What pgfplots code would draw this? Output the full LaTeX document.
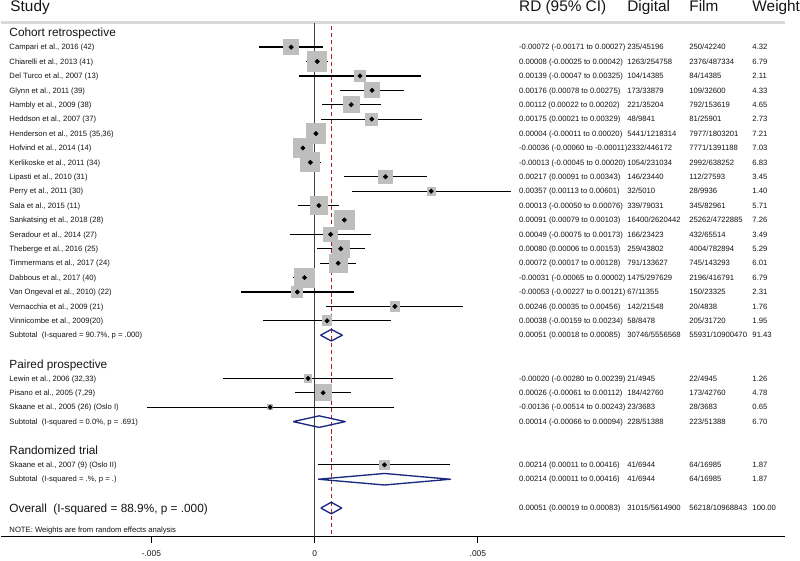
\documentclass[border=0pt]{standalone}
\usepackage{fontspec}
\setmainfont{Liberation Sans}
\usepackage{pgfplots}
\usepackage{pgfplotstable}
\pgfplotsset{compat=1.18}

\definecolor{boxgray}{RGB}{190,190,190}
\definecolor{hdrline}{RGB}{217,217,217}
\definecolor{navyd}{RGB}{26,40,128}
\definecolor{refred}{RGB}{165,35,35}
\definecolor{txt}{RGB}{20,20,20}

% y = -row, row 0 = first study
\pgfplotstableread{
y rd lo hi w
0 -0.00072 -0.00171 0.00027 4.32
-1 0.00008 -0.00025 0.00042 6.79
-2 0.00139 -0.00047 0.00325 2.11
-3 0.00176 0.00078 0.00275 4.33
-4 0.00112 0.00022 0.00202 4.65
-5 0.00175 0.00021 0.00329 2.73
-6 0.00004 -0.00011 0.00020 7.21
-7 -0.00036 -0.00060 -0.00011 7.03
-8 -0.00013 -0.00045 0.00020 6.83
-9 0.00217 0.00091 0.00343 3.45
-10 0.00357 0.00113 0.00601 1.40
-11 0.00013 -0.00050 0.00076 5.71
-12 0.00091 0.00079 0.00103 7.26
-13 0.00049 -0.00075 0.00173 3.49
-14 0.00080 0.00006 0.00153 5.29
-15 0.00072 0.00017 0.00128 6.01
-16 -0.00031 -0.00065 0.00002 6.79
-17 -0.00053 -0.00227 0.00121 2.31
-18 0.00246 0.00035 0.00456 1.76
-19 0.00038 -0.00159 0.00234 1.95
-23 -0.00020 -0.00280 0.00239 1.26
-24 0.00026 -0.00061 0.00112 4.78
-25 -0.00136 -0.00514 0.00243 0.65
-29 0.00214 0.00011 0.00416 1.87
}\studies

% column positions (data units)
\def\xS{-0.009356}
\def\xR{0.006258}
\def\xD{0.009571}
\def\xF{0.011472}
\def\xW{0.013405}

\newcommand\srow[6]{%
  \node[sm] at (axis cs:\xS,#1) {#2};
  \node[sm] at (axis cs:\xR,#1) {#3};
  \node[sm] at (axis cs:\xD,#1) {#4};
  \node[sm] at (axis cs:\xF,#1) {#5};
  \node[sm] at (axis cs:\xW,#1) {#6};
}

\begin{document}
\begin{tikzpicture}[
  sm/.style={font=\fontsize{5.75}{7}\selectfont, anchor=base west, inner sep=0pt, yshift=-2.05pt, text=txt},
  grp/.style={font=\fontsize{8.85}{10}\selectfont, anchor=base west, inner sep=0pt, yshift=-3.2pt, text=txt},
  hdr/.style={font=\fontsize{11.5}{13}\selectfont, anchor=base west, inner sep=0pt, text=txt},
]
\begin{axis}[
  scale only axis,
  width=587.25pt, height=402.75pt,
  xmin=-0.00960123, xmax=0.01441718,
  ymin=-34, ymax=3.3333,
  axis x line=bottom, axis y line=none,
  x axis line style={-, black, line width=0.6pt},
  xtick={-0.005,0,0.005},
  xticklabels={-.005,0,.005},
  scaled x ticks=false,
  ytick=\empty,
  tick align=outside,
  major tick length=4.5pt,
  tick style={black, line width=0.6pt},
  x tick label style={font=\fontsize{6.3}{7}\selectfont, text=txt, yshift=-2pt},
  clip=false,
]
% header rule and reference lines
\addplot[hdrline, line width=1.8pt] coordinates {(-0.00960123,1.7) (0.01441718,1.7)};
\addplot[black!75, line width=0.8pt] coordinates {(0,1.7) (0,-34)};
\addplot[refred, line width=0.8pt, dash pattern=on 3.2pt off 2.2pt] coordinates {(0.00051,1.5) (0.00051,-34)};

% weight boxes (side proportional to sqrt of weight)
\addplot[only marks, mark=none,
  visualization depends on={5.78*sqrt(\thisrow{w}) \as \bsz},
  nodes near coords={},
  every node near coord/.append style={anchor=center, fill=boxgray, draw=none,
    inner sep=0pt, outer sep=0pt, minimum size=\bsz pt}]
  table[x=rd, y=y, meta=w] {\studies};

% confidence intervals and point estimates
\addplot[only marks, mark=square*, mark size=1.15pt,
  mark options={fill=black, draw=none, rotate=45},
  error bars/.cd, x dir=both, x explicit, error mark=none,
  error bar style={black, line width=0.95pt}]
  table[x=rd, y=y,
    x error minus expr=\thisrow{rd}-\thisrow{lo},
    x error plus expr=\thisrow{hi}-\thisrow{rd}] {\studies};

% pooled diamonds
\addplot[navyd, line width=1pt, line join=round] coordinates {(0.00018,-20) (0.00051,-19.6) (0.00085,-20) (0.00051,-20.4) (0.00018,-20)};
\addplot[navyd, line width=1pt, line join=round] coordinates {(-0.00066,-26) (0.00014,-25.6) (0.00094,-26) (0.00014,-26.4) (-0.00066,-26)};
\addplot[navyd, line width=1pt, line join=round] coordinates {(0.00011,-30) (0.00214,-29.6) (0.00416,-30) (0.00214,-30.4) (0.00011,-30)};
\addplot[navyd, line width=1pt, line join=round] coordinates {(0.00019,-32) (0.00051,-31.6) (0.00083,-32) (0.00051,-32.4) (0.00019,-32)};

% headers
\node[hdr] at (axis cs:-0.009325,2.5) {Study};
\node[hdr] at (axis cs:0.006258,2.5) {RD (95\% CI)};
\node[hdr] at (axis cs:0.009571,2.5) {Digital};
\node[hdr] at (axis cs:0.011472,2.5) {Film};
\node[hdr] at (axis cs:0.013405,2.5) {Weight};

\node[grp] at (axis cs:\xS,1) {Cohort retrospective};
\srow{0}{Campari et al., 2016 (42)}{-0.00072 (-0.00171 to 0.00027)}{235/45196}{250/42240}{4.32}
\srow{-1}{Chiarelli et al., 2013 (41)}{0.00008 (-0.00025 to 0.00042)}{1263/254758}{2376/487334}{6.79}
\srow{-2}{Del Turco et al., 2007 (13)}{0.00139 (-0.00047 to 0.00325)}{104/14385}{84/14385}{2.11}
\srow{-3}{Glynn et al., 2011 (39)}{0.00176 (0.00078 to 0.00275)}{173/33879}{109/32600}{4.33}
\srow{-4}{Hambly et al., 2009 (38)}{0.00112 (0.00022 to 0.00202)}{221/35204}{792/153619}{4.65}
\srow{-5}{Heddson et al., 2007 (37)}{0.00175 (0.00021 to 0.00329)}{48/9841}{81/25901}{2.73}
\srow{-6}{Henderson et al., 2015 (35,36)}{0.00004 (-0.00011 to 0.00020)}{5441/1218314}{7977/1803201}{7.21}
\srow{-7}{Hofvind et al., 2014 (14)}{-0.00036 (-0.00060 to -0.00011)}{2332/446172}{7771/1391188}{7.03}
\srow{-8}{Kerlikoske et al., 2011 (34)}{-0.00013 (-0.00045 to 0.00020)}{1054/231034}{2992/638252}{6.83}
\srow{-9}{Lipasti et al., 2010 (31)}{0.00217 (0.00091 to 0.00343)}{146/23440}{112/27593}{3.45}
\srow{-10}{Perry et al., 2011 (30)}{0.00357 (0.00113 to 0.00601)}{32/5010}{28/9936}{1.40}
\srow{-11}{Sala et al., 2015 (11)}{0.00013 (-0.00050 to 0.00076)}{339/79031}{345/82961}{5.71}
\srow{-12}{Sankatsing et al., 2018 (28)}{0.00091 (0.00079 to 0.00103)}{16400/2620442}{25262/4722885}{7.26}
\srow{-13}{Seradour et al., 2014 (27)}{0.00049 (-0.00075 to 0.00173)}{166/23423}{432/65514}{3.49}
\srow{-14}{Theberge et al., 2016 (25)}{0.00080 (0.00006 to 0.00153)}{259/43802}{4004/782894}{5.29}
\srow{-15}{Timmermans et al., 2017 (24)}{0.00072 (0.00017 to 0.00128)}{791/133627}{745/143293}{6.01}
\srow{-16}{Dabbous et al., 2017 (40)}{-0.00031 (-0.00065 to 0.00002)}{1475/297629}{2196/416791}{6.79}
\srow{-17}{Van Ongeval et al., 2010) (22)}{-0.00053 (-0.00227 to 0.00121)}{67/11355}{150/23325}{2.31}
\srow{-18}{Vernacchia et al., 2009 (21)}{0.00246 (0.00035 to 0.00456)}{142/21548}{20/4838}{1.76}
\srow{-19}{Vinnicombe et al., 2009(20)}{0.00038 (-0.00159 to 0.00234)}{58/8478}{205/31720}{1.95}
\srow{-20}{Subtotal\ \ (I-squared = 90.7\%, p = .000)}{0.00051 (0.00018 to 0.00085)}{30746/5556568}{55931/10900470}{91.43}

\node[grp] at (axis cs:\xS,-22) {Paired prospective};
\srow{-23}{Lewin et al., 2006 (32,33)}{-0.00020 (-0.00280 to 0.00239)}{21/4945}{22/4945}{1.26}
\srow{-24}{Pisano et al., 2005 (7,29)}{0.00026 (-0.00061 to 0.00112)}{184/42760}{173/42760}{4.78}
\srow{-25}{Skaane et al., 2005 (26) (Oslo I)}{-0.00136 (-0.00514 to 0.00243)}{23/3683}{28/3683}{0.65}
\srow{-26}{Subtotal\ \ (I-squared = 0.0\%, p = .691)}{0.00014 (-0.00066 to 0.00094)}{228/51388}{223/51388}{6.70}

\node[grp] at (axis cs:\xS,-28) {Randomized trial};
\srow{-29}{Skaane et al., 2007 (9) (Oslo II)}{0.00214 (0.00011 to 0.00416)}{41/6944}{64/16985}{1.87}
\srow{-30}{Subtotal\ \ (I-squared = .\%, p = .)}{0.00214 (0.00011 to 0.00416)}{41/6944}{64/16985}{1.87}

\node[grp] at (axis cs:\xS,-32) {Overall\ \ (I-squared = 88.9\%, p = .000)};
\node[sm] at (axis cs:\xR,-32) {0.00051 (0.00019 to 0.00083)};
\node[sm] at (axis cs:\xD,-32) {31015/5614900};
\node[sm] at (axis cs:\xF,-32) {56218/10968843};
\node[sm] at (axis cs:\xW,-32) {100.00};

\node[sm] at (axis cs:\xS,-33.5) {NOTE: Weights are from random effects analysis};
\end{axis}
\end{tikzpicture}
\end{document}
